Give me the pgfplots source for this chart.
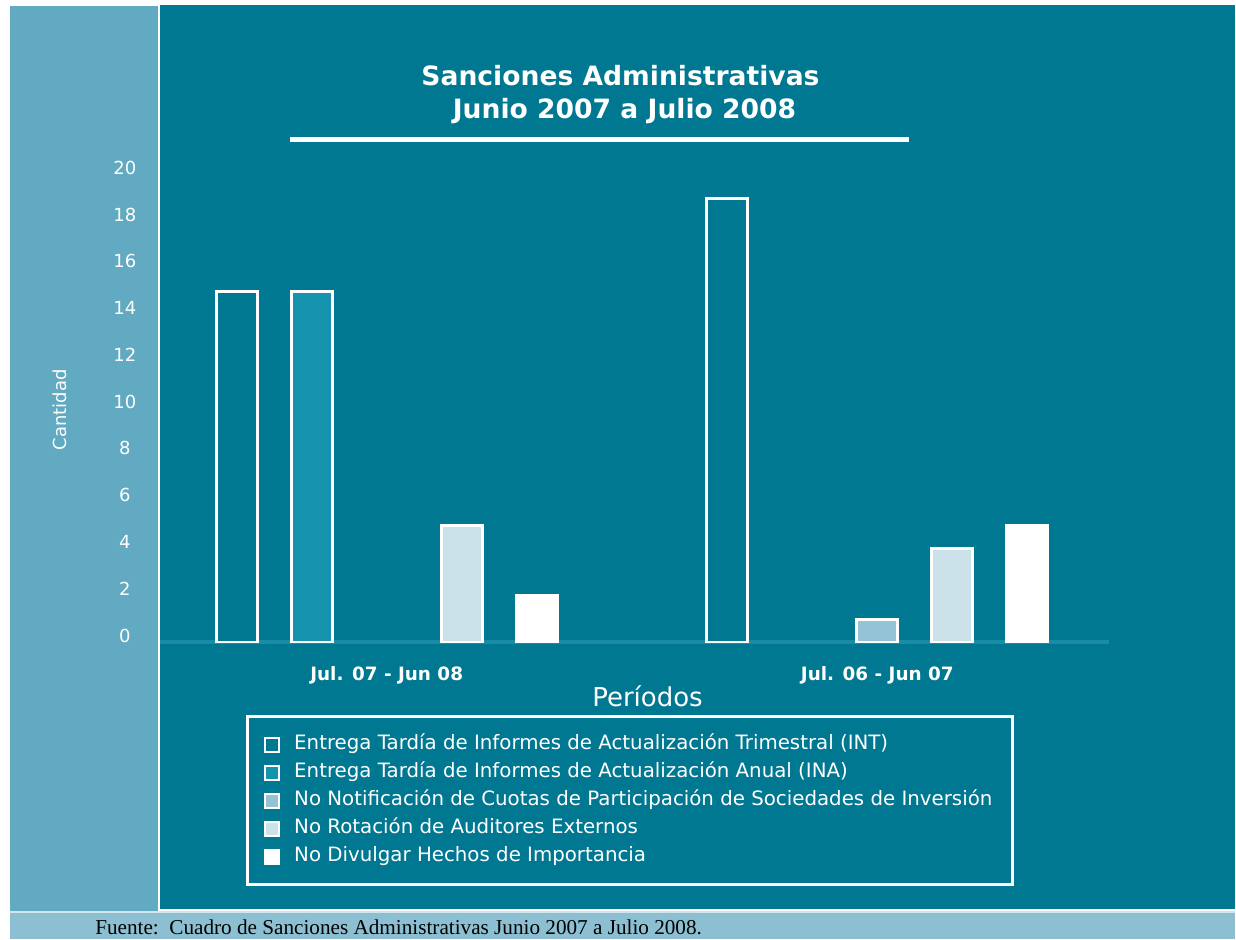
\documentclass[border=0pt]{standalone}
\usepackage{pgfplots}
\pgfplotsset{compat=1.18}
\usepackage{fontspec}
\setmainfont{DejaVu Sans}
\newfontfamily\fuentefont{Liberation Serif}

\definecolor{panel}{HTML}{007891}
\definecolor{strip}{HTML}{62AAC1}
\definecolor{foot}{HTML}{8DBFD2}
\definecolor{inafill}{HTML}{1693AE}
\definecolor{notif}{HTML}{94C3D5}
\definecolor{rotac}{HTML}{CCE2EA}
\definecolor{baseln}{HTML}{1A8DA6}

\begin{document}
\begin{tikzpicture}
% background panels, in pixel units of the 1236x940 reference
\begin{scope}[x=0.5pt,y=-0.5pt,shift={(0pt,470pt)}]
  \fill[white] (0,0) rectangle (1236,940);
  \fill[strip] (10,6) rectangle (158,912);
  \fill[panel] (160,5) rectangle (1236,910);
  \fill[foot] (10,913) rectangle (1236,940);
  \draw[white!60!foot, line width=1pt] (10,913) -- (1236,913);
  \draw[baseln, line width=2pt] (160,643) -- (1110,643);
\end{scope}

\begin{axis}[
    at={(80pt,148.5pt)}, anchor=south west,
    scale only axis,
    width=475pt, height=234pt,
    xmin=-0.4623, xmax=1.4725,
    ymin=0, ymax=20,
    axis line style={draw=none},
    major tick length=0pt,
    ybar=17pt, bar width=20.5pt,
    xtick={0,1},
    xticklabels={Jul. 07 - Jun 08, Jul. 06 - Jun 07},
    xticklabel style={font=\bfseries\fontsize{9.2}{10}\selectfont, text=white, anchor=center, yshift=-16.5pt},
    ytick={0,2,...,20},
    yticklabel style={font=\fontsize{9}{10}\selectfont, text=white, anchor=center, xshift=-17.5pt, yshift=3.5pt},
    /pgf/number format/assume math mode=true,
    xlabel={Períodos},
    xlabel style={font=\fontsize{13}{15}\selectfont, text=white, at={(axis description cs:0.5137,-0.1154)}, anchor=center},
    ylabel={Cantidad},
    ylabel style={font=\fontsize{9}{10}\selectfont, text=white, at={(axis description cs:-0.1053,0.498)}, anchor=center},
    legend image code/.code={\path (0pt,0pt); \draw[#1, line width=1pt] (0.5pt,-3.5pt) rectangle (7.5pt,3.5pt); \path (12pt,0pt);},
    legend cell align=left,
    legend style={at={(axis description cs:0.0905,-0.156)}, anchor=north west,
        draw=white, line width=1.5pt, fill=none, text=white,
        font=\fontsize{9.9}{11}\selectfont,
        inner xsep=7.5pt, inner ysep=7pt, row sep=0pt,
        nodes={text height=7pt, text depth=2pt, inner sep=2.5pt}},
]
\addplot[draw=white, fill=panel, line width=1.5pt] coordinates {(0,15) (1,19)};
\addplot[draw=white, fill=inafill, line width=1.5pt] coordinates {(0,15)};
\addplot[draw=white, fill=notif, line width=1.5pt] coordinates {(1,1)};
\addplot[draw=white, fill=rotac, line width=1.5pt] coordinates {(0,5) (1,4)};
\addplot[draw=white, fill=white, line width=1.5pt] coordinates {(0,2) (1,5)};
\legend{Entrega Tardía de Informes de Actualización Trimestral (INT),
        Entrega Tardía de Informes de Actualización Anual (INA),
        No Notificación de Cuotas de Participación de Sociedades de Inversión,
        No Rotación de Auditores Externos,
        No Divulgar Hechos de Importancia}
\end{axis}

% title, rule and source line
\begin{scope}[x=0.5pt,y=-0.5pt,shift={(0pt,470pt)}]
  \node[font=\bfseries\fontsize{13.3}{16}\selectfont, text=white] at (621,76) {Sanciones Administrativas};
  \node[font=\bfseries\fontsize{13.3}{16}\selectfont, text=white] at (625,111) {Junio 2007 a Julio 2008};
  \draw[white, line width=2.5pt] (290,140) -- (910,140);
  \node[font=\fuentefont\fontsize{10.6}{12}\selectfont, anchor=west, inner sep=0pt] at (95,928) {Fuente:\ \ Cuadro de Sanciones Administrativas Junio 2007 a Julio 2008.};
\end{scope}
\end{tikzpicture}
\end{document}
